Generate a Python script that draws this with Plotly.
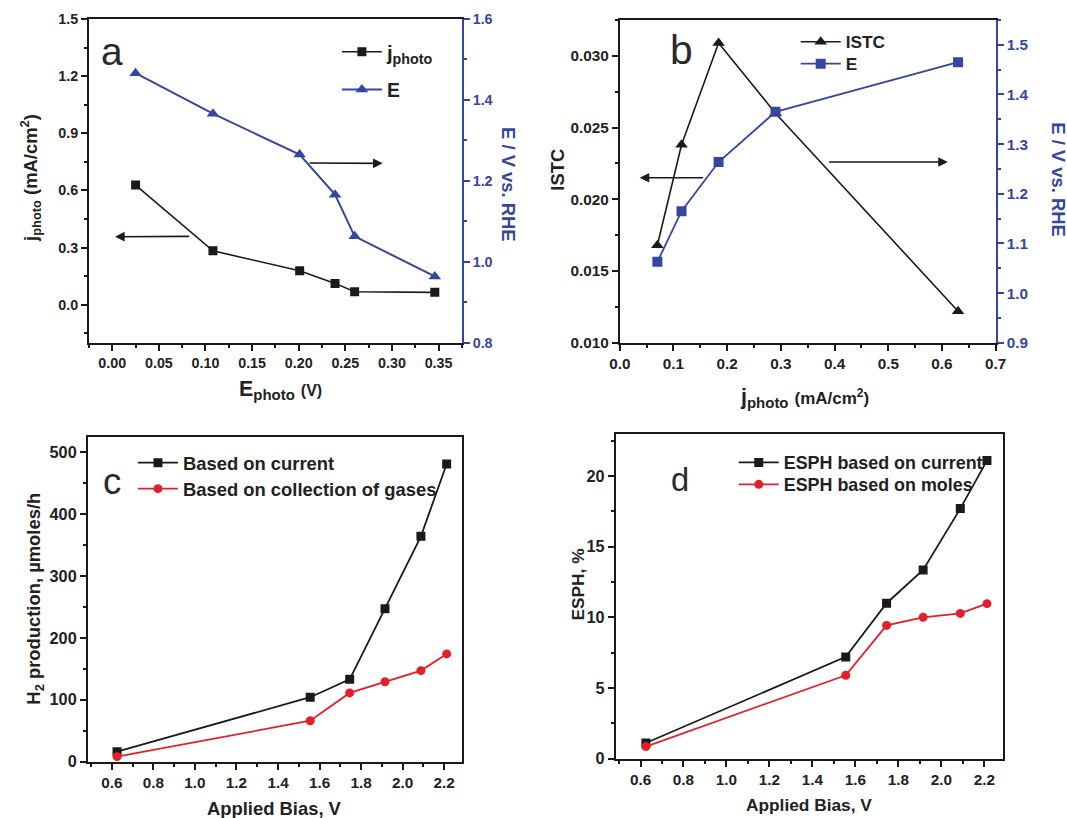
import plotly.graph_objects as go

# ---------------- data ----------------
# panel a
a_E_photo = [0.025, 0.108, 0.201, 0.239, 0.260, 0.346]
a_j_photo = [0.628, 0.283, 0.178, 0.112, 0.068, 0.065]
a_E = [1.466, 1.366, 1.265, 1.166, 1.063, 0.964]
# panel b
b_j_photo = [0.070, 0.115, 0.184, 0.290, 0.630]
b_ISTC = [0.0168, 0.0238, 0.0309, 0.0260, 0.0122]
b_E = [1.063, 1.165, 1.264, 1.365, 1.465]
# panel c / d
bias = [0.625, 1.555, 1.745, 1.915, 2.088, 2.212]
c_current = [16, 104, 133, 247, 364, 481]
c_gases = [8, 66, 111, 129, 147, 174]
d_current = [1.1, 7.2, 11.0, 13.35, 17.7, 21.1]
d_moles = [0.85, 5.9, 9.43, 10.0, 10.28, 10.97]

# the page shows the figure shifted by OFF px and scaled by S; compensate
OFF, S = 8, 0.98
W, H = round((1067 - OFF) / S), round((818 - OFF) / S)
FONT = "Liberation Sans, Arial, sans-serif"
BLK = "#1a1a1a"
BLUE = "#3546a0"
RED = "#e3202a"


def px(x):
    return (x - OFF) / S / W


def py(y):
    return 1 - (y - OFF) / S / H


def fs(v):
    return round(v / S, 1)


fig = go.Figure()

# ---- a ----
fig.add_trace(go.Scatter(x=a_E_photo, y=a_j_photo, mode="lines+markers", name="j<sub>photo</sub>",
                         line=dict(color=BLK, width=1.6), marker=dict(symbol="square", size=9, color=BLK),
                         xaxis="x", yaxis="y", legend="legend"))
fig.add_trace(go.Scatter(x=a_E_photo, y=a_E, mode="lines+markers", name="E",
                         line=dict(color=BLUE, width=2), marker=dict(symbol="triangle-up", size=11, color=BLUE),
                         xaxis="x", yaxis="y5", legend="legend2"))
# ---- b ----
fig.add_trace(go.Scatter(x=b_j_photo, y=b_ISTC, mode="lines+markers", name="ISTC",
                         line=dict(color=BLK, width=1.6),
                         marker=dict(symbol="triangle-up", size=11, color=BLK),
                         xaxis="x2", yaxis="y2", legend="legend3"))
fig.add_trace(go.Scatter(x=b_j_photo, y=b_E, mode="lines+markers", name="E",
                         line=dict(color=BLUE, width=1.8), marker=dict(symbol="square", size=10, color=BLUE),
                         xaxis="x2", yaxis="y6", legend="legend4"))
# ---- c ----
fig.add_trace(go.Scatter(x=bias, y=c_current, mode="lines+markers", name="Based on current",
                         line=dict(color=BLK, width=1.8), marker=dict(symbol="square", size=9, color=BLK),
                         xaxis="x3", yaxis="y3", legend="legend5"))
fig.add_trace(go.Scatter(x=bias, y=c_gases, mode="lines+markers", name="Based on collection of gases",
                         line=dict(color=RED, width=1.8), marker=dict(symbol="circle", size=9, color=RED),
                         xaxis="x3", yaxis="y3", legend="legend6"))
# ---- d ----
fig.add_trace(go.Scatter(x=bias, y=d_current, mode="lines+markers", name="ESPH based on current",
                         line=dict(color=BLK, width=1.8), marker=dict(symbol="square", size=9, color=BLK),
                         xaxis="x4", yaxis="y4", legend="legend7"))
fig.add_trace(go.Scatter(x=bias, y=d_moles, mode="lines+markers", name="ESPH based on moles",
                         line=dict(color=RED, width=1.8), marker=dict(symbol="circle", size=9, color=RED),
                         xaxis="x4", yaxis="y4", legend="legend8"))


def ax(domain, rng, dtick, mdtick, fmt=None, tick0=None, color=BLK, mirror=True, anchor=None, size=15, **kw):
    d = dict(domain=domain, range=rng, dtick=dtick, showline=True, linecolor=color, linewidth=2,
             mirror=mirror, ticks="outside", ticklen=6, tickwidth=1.5, tickcolor=color,
             showgrid=False, zeroline=False,
             tickfont=dict(family=FONT, size=fs(size), color=("#222" if color == BLK else color), weight="bold"),
             minor=dict(dtick=mdtick, ticks="outside", ticklen=3, tickwidth=1.5, tickcolor=color, showgrid=False))
    if fmt:
        d["tickformat"] = fmt
    if tick0 is not None:
        d["tick0"] = tick0
        d["minor"]["tick0"] = tick0
    if anchor:
        d["anchor"] = anchor
    d.update(kw)
    return d


a_x = [px(86), px(459)]
a_y = [py(343), py(19)]
b_x = [px(617), px(993)]
b_y = [py(343), py(20)]
c_x = [px(85), px(459)]
c_y = [py(762), py(437)]
d_x = [px(613), px(1000)]
d_y = [py(759), py(434)]

fig.update_layout(
    xaxis=ax(a_x, [-0.025, 0.375], 0.05, 0.025, ".2f", tick0=0, anchor="y", size=14),
    yaxis=ax(a_y, [-0.2, 1.5], 0.3, 0.15, ".1f", tick0=0, mirror=False, anchor="x", size=14),
    yaxis5=ax(a_y, [0.8, 1.6], 0.2, 0.1, ".1f", tick0=0.8, color=BLUE, mirror=False, anchor="x",
              overlaying="y", side="right", size=14),
    xaxis2=ax(b_x, [0, 0.7], 0.1, 0.05, ".1f", tick0=0, anchor="y2"),
    yaxis2=ax(b_y, [0.01, 0.0325], 0.005, 0.0025, ".3f", tick0=0.01, mirror=False, anchor="x2"),
    yaxis6=ax(b_y, [0.9, 1.55], 0.1, 0.05, ".1f", tick0=0.9, color=BLUE, mirror=False, anchor="x2",
              overlaying="y2", side="right"),
    xaxis3=ax(c_x, [0.485, 2.285], 0.2, 0.1, ".1f", tick0=0.6, anchor="y3"),
    yaxis3=ax(c_y, [0, 525], 100, 50, tick0=0, anchor="x3", size=16),
    xaxis4=ax(d_x, [0.485, 2.285], 0.2, 0.1, ".1f", tick0=0.6, anchor="y4"),
    yaxis4=ax(d_y, [0, 23], 5, 2.5, tick0=0, anchor="x4", size=16),
)


def leg(x, y, size):
    return dict(bgcolor="rgba(0,0,0,0)", borderwidth=0, xanchor="left", yanchor="middle", itemwidth=40,
                x=px(x), y=py(y), font=dict(family=FONT, size=fs(size), color="#222", weight="bold"))


fig.update_layout(
    legend=leg(334, 52, 20), legend2=leg(334, 90, 19),
    legend3=leg(793, 42, 17), legend4=leg(793, 64, 17),
    legend5=leg(130, 463, 18), legend6=leg(130, 489, 18),
    legend7=leg(731, 463, 17.5), legend8=leg(731, 485, 17.5),
)

anns = []


def title(text, x, y, angle=0, color="#222", size=18):
    anns.append(dict(text=text, x=px(x), y=py(y), xref="paper", yref="paper", showarrow=False,
                     textangle=angle, xanchor="center", yanchor="middle",
                     font=dict(family=FONT, size=fs(size), color=color, weight="bold")))


title("j<sub>photo</sub> (mA/cm<sup>2</sup>)", 28, 178, angle=-90, size=18)
title("E<sub>photo</sub> <span style='font-size:16px'>(V)</span>", 278, 390, size=21)
title("E / V vs. RHE", 505, 184, angle=90, color=BLUE, size=18)
title("ISTC", 555, 170, angle=-90, size=18)
title("j<sub>photo</sub> <span style='font-size:17px'>(mA/cm<sup>2</sup>)</span>", 802, 398, size=21)
title("E / V vs. RHE", 1055, 179, angle=90, color=BLUE, size=18)
title("H<sub>2</sub> production, µmoles/h", 32, 599, angle=-90, size=18)
title("Applied Bias, V", 272, 809, size=18)
title("ESPH, %", 575, 585, angle=-90, size=17)
title("Applied Bias, V", 806, 805, size=17)


def label(t, x, y, size):
    anns.append(dict(text=t, x=px(x), y=py(y), xref="paper", yref="paper", showarrow=False,
                     xanchor="center", yanchor="middle",
                     font=dict(family=FONT, size=fs(size), color="#2a2a2a")))


label("a", 109, 52, 38)
label("b", 679, 50, 40)
label("c", 109, 482, 36)
label("d", 677, 480, 32)


def arrow(xr, yr, x, y, axv, ayv):
    anns.append(dict(text="", xref=xr, yref=yr, axref=xr, ayref=yr, x=x, y=y, ax=axv, ay=ayv,
                     showarrow=True, arrowhead=2, arrowsize=1.2, arrowwidth=1.6, arrowcolor=BLK))


arrow("x", "y", 0.003, 0.357, 0.084, 0.359)
arrow("x", "y", 0.290, 0.742, 0.210, 0.744)
arrow("x2", "y2", 0.037, 0.0215, 0.158, 0.0215)
arrow("x2", "y2", 0.611, 0.0226, 0.387, 0.0226)

fig.update_layout(annotations=anns, width=W, height=H, margin=dict(l=0, r=0, t=0, b=0),
                  paper_bgcolor="white", plot_bgcolor="white", showlegend=True)

fig.write_html("out.html")
